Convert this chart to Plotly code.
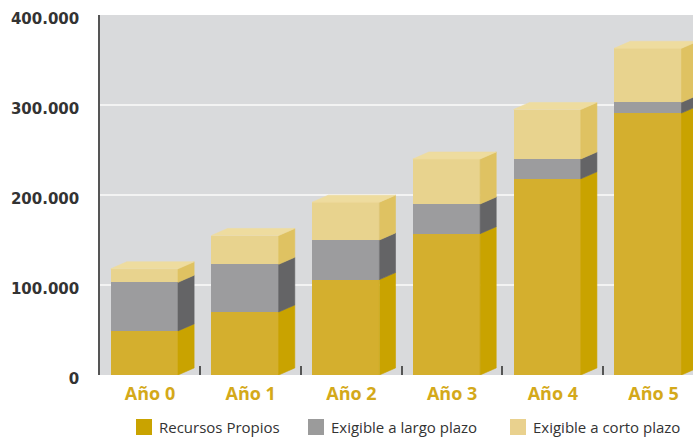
import plotly.graph_objects as go

# ---- data ----
categories = ["Año 0", "Año 1", "Año 2", "Año 3", "Año 4", "Año 5"]
series_names = ["Recursos Propios", "Exigible a largo plazo", "Exigible a corto plazo"]
recursos_propios = [49000, 70000, 106000, 157000, 218000, 291000]
exigible_largo = [54000, 53000, 44000, 33000, 22000, 12000]
exigible_corto = [15000, 32000, 42000, 50000, 55000, 60000]
y_tickvals = [0, 100000, 200000, 300000, 400000]
y_ticktext = ["0", "100.000", "200.000", "300.000", "400.000"]

series_values = [recursos_propios, exigible_largo, exigible_corto]
front_colors = ["#d4af2e", "#9c9c9e", "#e8d38e"]
side_colors = ["#c9a300", "#646466", "#dfc262"]
top_color = "#eedc9f"
legend_colors = ["#c9a300", "#9b9b9b", "#e9d18e"]

# geometry of the pseudo-3D bars (in axis units)
OFF = -0.39      # left edge of front face relative to category position
W = 0.668        # front face width
DX = 0.16        # depth (horizontal)
DY = 7800        # depth (vertical, data units)

x_idx = list(range(len(categories)))
fig = go.Figure()

# front faces: real stacked bars
for name, vals, col in zip(series_names, series_values, front_colors):
    fig.add_trace(go.Bar(x=x_idx, y=vals, name=name, width=W, offset=OFF,
                         marker=dict(color=col, line=dict(width=0)),
                         showlegend=False))

# side faces and top faces computed from the stacked values
bases = [0] * len(categories)
for s, (vals, col) in enumerate(zip(series_values, side_colors)):
    xs, ys = [], []
    for i, v in enumerate(vals):
        b = bases[i]
        t = b + v
        xr = i + OFF + W
        xs += [xr, xr + DX, xr + DX, xr, xr, None]
        ys += [b, b + DY, t + DY, t, b, None]
    fig.add_trace(go.Scatter(x=xs, y=ys, mode="lines", fill="toself",
                             fillcolor=col, line=dict(color=col, width=0.6),
                             hoverinfo="skip", showlegend=False))
    bases = [bases[i] + vals[i] for i in range(len(vals))]

xs, ys = [], []
for i, T in enumerate(bases):
    xl = i + OFF
    xr = xl + W
    xs += [xl, xl + DX, xr + DX, xr, xl, None]
    ys += [T, T + DY, T + DY, T, T, None]
fig.add_trace(go.Scatter(x=xs, y=ys, mode="lines", fill="toself",
                         fillcolor=top_color, line=dict(color=top_color, width=0.6),
                         hoverinfo="skip", showlegend=False))

# custom legend (shapes + annotations in paper coordinates)
PW, PL, PT, PH = 593.0, 100.0, 15.0, 360.0
def px_x(p):
    return (p - PL) / PW
def px_y(p):
    return (PT + PH - p) / PH

legend_swatch_x = [136, 308, 510]
for name, col, sx in zip(series_names, legend_colors, legend_swatch_x):
    fig.add_shape(type="rect", xref="paper", yref="paper",
                  x0=px_x(sx), x1=px_x(sx + 16), y0=px_y(435), y1=px_y(419),
                  fillcolor=col, line=dict(width=0))
    fig.add_annotation(xref="paper", yref="paper", x=px_x(sx + 21), y=px_y(427),
                       text=name, showarrow=False, xanchor="left", yanchor="middle",
                       font=dict(family="Open Sans", size=15, color="#333333"))

fig.update_layout(
    width=693, height=439,
    margin=dict(l=100, r=0, t=15, b=64),
    paper_bgcolor="white",
    plot_bgcolor="#d9dadc",
    barmode="stack",
    bargap=0,
    showlegend=False,
    xaxis=dict(
        range=[-0.4965, 5.392],
        tickmode="array", tickvals=x_idx, ticktext=categories,
        ticks="", showgrid=False, zeroline=False, showline=False,
        tickfont=dict(family="Open Sans", size=18, color="#d4a91a", weight="bold"),
        ticklabelstandoff=6,
        minor=dict(tickmode="array", tickvals=[0.5, 1.5, 2.5, 3.5, 4.5],
                   ticks="inside", ticklen=9, tickwidth=1.5, tickcolor="#555555",
                   showgrid=False),
        fixedrange=True,
    ),
    yaxis=dict(
        range=[0, 400000],
        tickmode="array", tickvals=y_tickvals, ticktext=y_ticktext,
        showgrid=True, gridcolor="#f3f3f3", gridwidth=2,
        zeroline=False, showline=True, linecolor="#555555", linewidth=1.5,
        ticks="", ticklabelstandoff=16, ticklabelshift=4,
        tickfont=dict(family="DejaVu Sans", size=15, color="#333333", weight="bold"),
        fixedrange=True,
    ),
)

fig.write_html("out.html")
